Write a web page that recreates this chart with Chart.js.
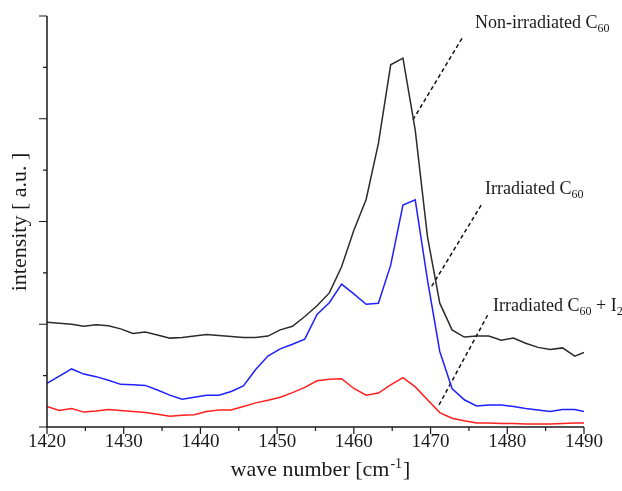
<!DOCTYPE html>
<html>
<head>
<meta charset="utf-8">
<script src="https://cdn.jsdelivr.net/npm/chart.js@4/dist/chart.umd.min.js"></script>
<style>
  html, body { margin: 0; padding: 0; background: #fff; }
  #wrap { width: 622px; height: 491px; }
</style>
</head>
<body>
<div id="wrap"><canvas id="spectra"></canvas></div>
<script>
// Raman shift grid (cm-1) shared by all three spectra
const waveNumbers = [1420, 1421.6, 1423.2, 1424.8, 1426.4, 1428, 1429.6, 1431.2, 1432.8, 1434.4,
  1436, 1437.6, 1439.2, 1440.8, 1442.4, 1444, 1445.6, 1447.2, 1448.8, 1450.4,
  1452, 1453.6, 1455.2, 1456.8, 1458.4, 1460, 1461.6, 1463.2, 1464.8, 1466.4,
  1468, 1469.6, 1471.2, 1472.8, 1474.4, 1476, 1477.6, 1479.2, 1480.8, 1482.4,
  1484, 1485.6, 1487.2, 1488.8, 1490];

const nonIrradiated = [2.04, 2.02, 2.00, 1.96, 1.99, 1.97, 1.91, 1.82, 1.85, 1.79,
  1.73, 1.74, 1.77, 1.80, 1.78, 1.76, 1.74, 1.74, 1.77, 1.89,
  1.96, 2.15, 2.36, 2.61, 3.12, 3.83, 4.43, 5.52, 7.05, 7.18,
  5.78, 3.70, 2.41, 1.89, 1.75, 1.77, 1.77, 1.69, 1.73, 1.63,
  1.55, 1.51, 1.54, 1.38, 1.45];

const irradiated = [0.85, 0.99, 1.13, 1.03, 0.98, 0.91, 0.83, 0.82, 0.81, 0.72,
  0.62, 0.54, 0.58, 0.62, 0.62, 0.69, 0.80, 1.12, 1.38, 1.52,
  1.61, 1.71, 2.19, 2.42, 2.78, 2.59, 2.39, 2.41, 3.15, 4.32,
  4.42, 2.86, 1.47, 0.75, 0.53, 0.41, 0.43, 0.43, 0.40, 0.36,
  0.33, 0.30, 0.34, 0.34, 0.30];

const irradiatedIodine = [0.40, 0.32, 0.36, 0.29, 0.31, 0.34, 0.32, 0.30, 0.28, 0.25,
  0.21, 0.23, 0.24, 0.30, 0.33, 0.33, 0.40, 0.47, 0.52, 0.58,
  0.67, 0.77, 0.90, 0.93, 0.94, 0.75, 0.62, 0.66, 0.82, 0.96,
  0.78, 0.53, 0.28, 0.17, 0.12, 0.08, 0.08, 0.07, 0.07, 0.06,
  0.06, 0.06, 0.07, 0.08, 0.08];

// axis ticks
const xTickLabels = [1420, 1430, 1440, 1450, 1460, 1470, 1480, 1490];
const xMinorTicks = [1425, 1435, 1445, 1455, 1465, 1475, 1485];
const yMajorTicks = [0, 2, 4, 6, 8];
const yMinorTicks = [1, 3, 5, 7];

// callouts: alternating normal / subscript pieces, dashed leader from/to (data units)
const calloutTexts = [
  ['Non-irradiated C', '60'],
  ['Irradiated C', '60'],
  ['Irradiated C', '60', ' + I', '2']
];
const calloutLines = [
  [[1467.7, 5.98], [1474.2, 7.59]],
  [[1470.15, 2.74], [1476.6, 4.32]],
  [[1471.1, 0.43], [1477.6, 2.22]]
];
// text baseline start of each callout
const calloutAnchors = [[1475.8, 7.77], [1477.1, 4.535], [1478.15, 2.26]];

const serif = '"Liberation Serif", "DejaVu Serif", serif';
const ink = '#1a1a1a';

function toPoints(ys) {
  return ys.map((y, i) => ({ x: waveNumbers[i], y }));
}

const leaderSets = calloutLines.map(seg => ({
  data: seg.map(p => ({ x: p[0], y: p[1] })),
  borderColor: '#111',
  borderWidth: 1.5,
  borderDash: [4, 3],
  pointRadius: 0,
  fill: false
}));

// axes, tick marks and text drawn on top of the chart area
const axesPlugin = {
  id: 'paperAxes',
  afterDraw(chart) {
    const { ctx, chartArea: a } = chart;
    const xs = chart.scales.x, ys = chart.scales.y;
    ctx.save();
    ctx.strokeStyle = ink;
    ctx.lineWidth = 1.5;
    ctx.beginPath();
    ctx.moveTo(a.left, a.top);
    ctx.lineTo(a.left, a.bottom);
    ctx.lineTo(a.right, a.bottom);
    ctx.stroke();

    ctx.lineWidth = 1.2;
    ctx.beginPath();
    xTickLabels.forEach(v => {
      const px = xs.getPixelForValue(v);
      ctx.moveTo(px, a.bottom); ctx.lineTo(px, a.bottom + 7);
    });
    xMinorTicks.forEach(v => {
      const px = xs.getPixelForValue(v);
      ctx.moveTo(px, a.bottom); ctx.lineTo(px, a.bottom + 4);
    });
    yMajorTicks.forEach(v => {
      const py = ys.getPixelForValue(v);
      ctx.moveTo(a.left, py); ctx.lineTo(a.left - 8, py);
    });
    yMinorTicks.forEach(v => {
      const py = ys.getPixelForValue(v);
      ctx.moveTo(a.left, py); ctx.lineTo(a.left - 4, py);
    });
    ctx.stroke();

    ctx.fillStyle = ink;
    ctx.font = '19px ' + serif;
    ctx.textAlign = 'center';
    ctx.textBaseline = 'middle';
    xTickLabels.forEach(v => {
      ctx.fillText(String(v), xs.getPixelForValue(v), a.bottom + 15);
    });

    // x title with superscript
    ctx.textAlign = 'left';
    ctx.textBaseline = 'alphabetic';
    const t1 = 'wave number [cm', sup = '-1', t2 = ']';
    ctx.font = '22px ' + serif;
    const w1 = ctx.measureText(t1).width;
    ctx.font = '14px ' + serif;
    const ws = ctx.measureText(sup).width;
    ctx.font = '22px ' + serif;
    const w2 = ctx.measureText(t2).width;
    const x0 = (a.left + a.right) / 2 - (w1 + ws + w2) / 2 + 4;
    const base = a.bottom + 49;
    ctx.fillText(t1, x0, base);
    ctx.font = '14px ' + serif;
    ctx.fillText(sup, x0 + w1 + 1, base - 8);
    ctx.font = '22px ' + serif;
    ctx.fillText(t2, x0 + w1 + ws + 2, base);

    // y title
    ctx.save();
    ctx.translate(20, 222);
    ctx.rotate(-Math.PI / 2);
    ctx.textAlign = 'center';
    ctx.textBaseline = 'middle';
    ctx.fillText('intensity [ a.u. ]', 0, 0);
    ctx.restore();

    // callout labels
    ctx.textAlign = 'left';
    ctx.textBaseline = 'alphabetic';
    calloutTexts.forEach((parts, i) => {
      let px = xs.getPixelForValue(calloutAnchors[i][0]);
      const py = ys.getPixelForValue(calloutAnchors[i][1]);
      parts.forEach((s, k) => {
        const isSub = k % 2 === 1;
        ctx.font = (isSub ? '12px ' : '18px ') + serif;
        ctx.fillText(s, px, isSub ? py + 4 : py);
        px += ctx.measureText(s).width;
      });
    });
    ctx.restore();
  }
};

new Chart(document.getElementById('spectra'), {
  type: 'line',
  data: {
    datasets: [
      { data: toPoints(nonIrradiated), borderColor: '#2b2b2b', borderWidth: 1.5, pointRadius: 0, tension: 0 },
      { data: toPoints(irradiated), borderColor: '#1f1fff', borderWidth: 1.5, pointRadius: 0, tension: 0 },
      { data: toPoints(irradiatedIodine), borderColor: '#ff1f1f', borderWidth: 1.5, pointRadius: 0, tension: 0 },
      ...leaderSets
    ]
  },
  options: {
    responsive: true,
    maintainAspectRatio: false,
    animation: false,
    layout: { padding: { left: 47, right: 38, top: 16, bottom: 64 } },
    plugins: { legend: { display: false }, tooltip: { enabled: false } },
    scales: {
      x: { type: 'linear', min: 1420, max: 1490, display: false },
      y: { type: 'linear', min: 0, max: 8, display: false }
    }
  },
  plugins: [axesPlugin]
});
</script>
</body>
</html>
